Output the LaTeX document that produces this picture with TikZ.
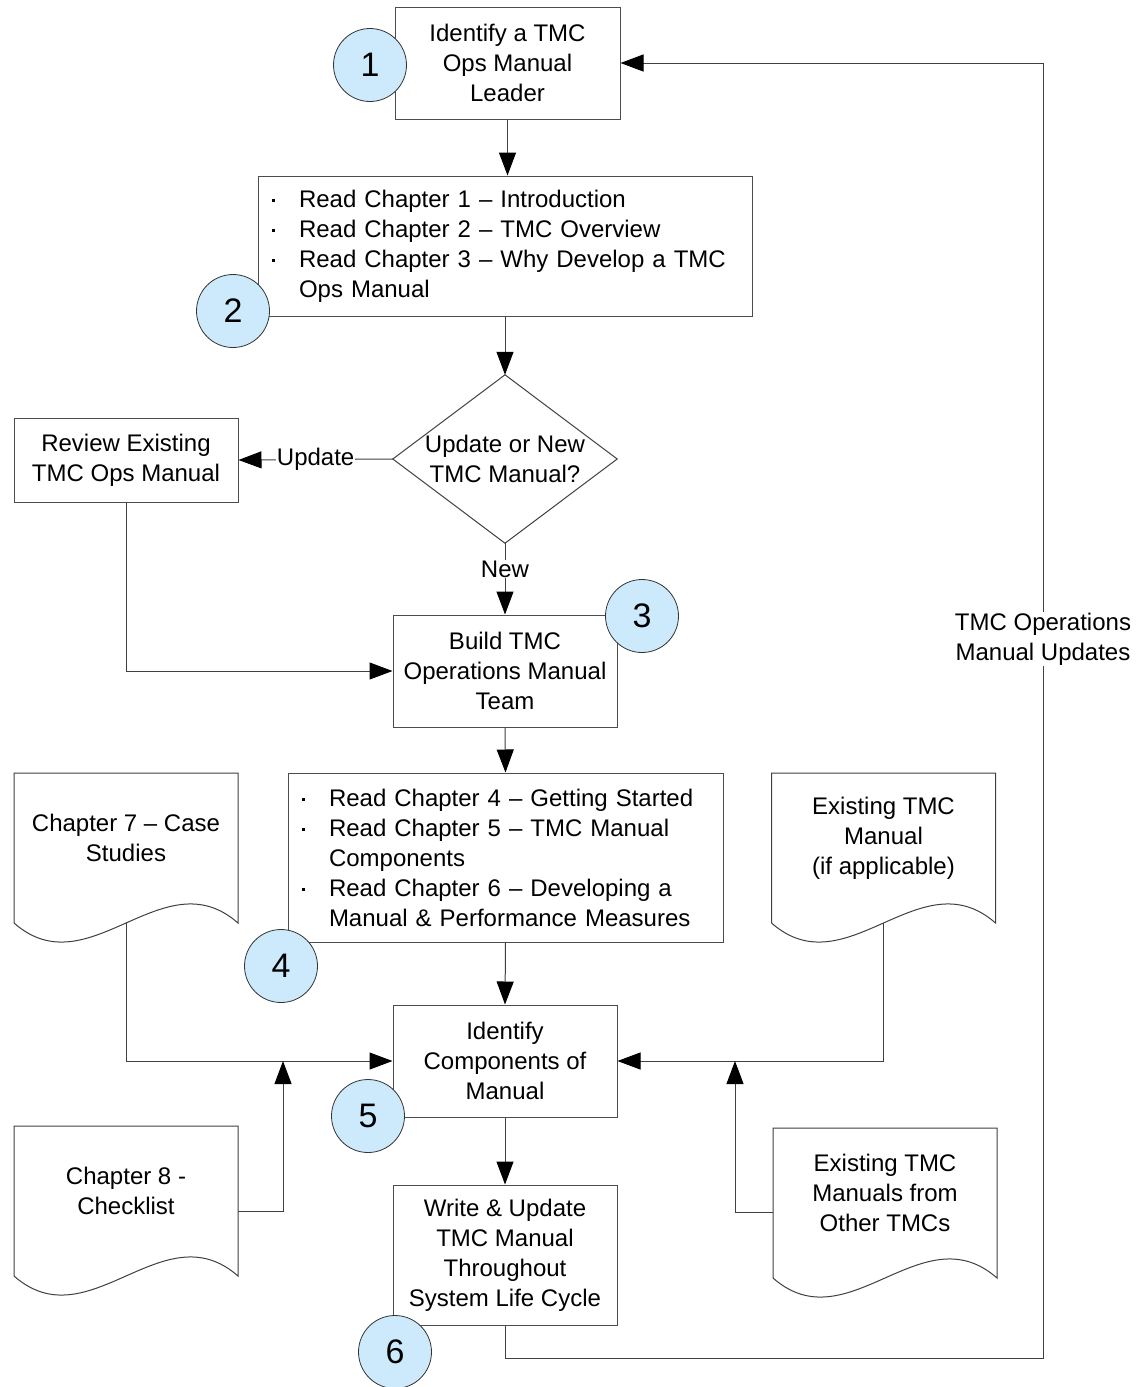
\documentclass[tikz,border=0pt]{standalone}
\usepackage{fontspec}
\setmainfont{Liberation Sans}
\usetikzlibrary{arrows.meta}

\definecolor{stepblue}{RGB}{204,234,252}
\newcommand\bul{\makebox[27pt][l]{\rule[5.5pt]{2.6pt}{2.6pt}}}
\newcommand\ind{\hspace*{27pt}}

\begin{document}
\begin{tikzpicture}
	[x=1pt, y=-1pt,
	every node/.style={font=\fontsize{24}{30}\selectfont},
	box/.style={draw=black!70, line width=1pt, fill=white, align=center, inner sep=0pt},
	listbox/.style={box, align=left, inner xsep=14pt, inner ysep=0pt},
	decision/.style={align=center, inner sep=0pt, minimum width=224pt, minimum height=168pt},
	doctext/.style={align=center, inner sep=0pt},
	stepnum/.style={circle, draw=black!80, line width=0.8pt, fill=stepblue, minimum size=73pt,
		inner sep=0pt, font=\fontsize{34}{34}\selectfont},
	line/.style={draw=black!75, line width=1pt},
	arrow/.style={line, -{Triangle[length=23pt,width=17pt,black]}},
	tag/.style={fill=white, inner sep=1pt, align=center}]

	% Page
	\path[use as bounding box, fill=white] (0,0) rectangle (1143,1387);

	% Main steps
	\node[box, minimum width=225pt, minimum height=112pt] (leader) at (507.5,63) {Identify a TMC\\Ops Manual\\Leader};
	\node[listbox, text width=466pt, minimum height=140pt] (intro) at (505,246)
		{\bul Read Chapter 1 -- Introduction\\
		 \bul Read Chapter 2 -- TMC Overview\\
		 \bul Read Chapter 3 -- Why Develop a TMC\\
		 \ind Ops Manual};
	\node[decision] (choice) at (505,459) {Update or New\\TMC Manual?};
	\draw[line] (choice.north) -- (choice.east) -- (choice.south) -- (choice.west) -- cycle;
	\node[box, minimum width=224pt, minimum height=84pt] (review) at (126,460) {Review Existing\\TMC Ops Manual};
	\node[box, minimum width=224pt, minimum height=112pt] (team) at (505,671) {Build TMC\\Operations Manual\\Team};
	\node[listbox, text width=407pt, minimum height=169pt] (plan) at (505.5,857.5)
		{\bul Read Chapter 4 -- Getting Started\\
		 \bul Read Chapter 5 -- TMC Manual\\
		 \ind Components\\
		 \bul Read Chapter 6 -- Developing a\\
		 \ind Manual \& Performance Measures};
	\node[box, minimum width=224pt, minimum height=112pt] (components) at (505,1061) {Identify\\Components of\\Manual};
	\node[box, minimum width=224pt, minimum height=140pt] (write) at (505,1255) {Write \& Update\\TMC Manual\\Throughout\\System Life Cycle};

	% Documents
	\node[doctext] (cases) at (126,838) {Chapter 7 -- Case\\Studies};
	\node[doctext] (current) at (883.5,838) {Existing TMC\\Manual\\(if applicable)};
	\node[doctext] (checklist) at (126,1191) {Chapter 8 -\\Checklist};
	\node[doctext] (others) at (885,1193) {Existing TMC\\Manuals from\\Other TMCs};

	\foreach \d in {cases,current,checklist,others}
		\draw[line] ([shift={(-112,-65)}]\d.center) -- ([shift={(112,-65)}]\d.center)
			-- ([shift={(112,85)}]\d.center)
			.. controls +(-75,-66) and +(75,66) .. ([shift={(-112,85)}]\d.center) -- cycle;

	\coordinate (casesfoot) at ([yshift=-85pt]cases.center);
	\coordinate (currentfoot) at ([yshift=-85pt]current.center);
	\coordinate (checkside) at ([shift={(112,20)}]checklist.center);
	\coordinate (othersside) at ([shift={(-112,19)}]others.center);
	\coordinate (checkjoin) at (283,1061);
	\coordinate (othersjoin) at (735,1061);
	\coordinate (loopcorner) at (1043,1358);

	% Connectors
	\draw[arrow] (leader.south) -- (leader.south |- intro.north);
	\draw[arrow] (intro.south) -- (choice.north);
	\draw[arrow] (choice.west) -- node[tag] {Update} (review.east);
	\draw[arrow] (choice.south) -- node[tag, pos=0.36] {New} (team.north);
	\draw[arrow] (review.south) |- (team.west);
	\draw[arrow] (team.south) -- (plan.north);
	\draw[arrow] (plan.south) -- (components.north);
	\draw[arrow] (components.south) -- (write.north);
	\draw[arrow] (casesfoot) |- (components.west);
	\draw[arrow] (currentfoot) |- (components.east);
	\draw[arrow] (checkside) -| (checkjoin);
	\draw[arrow] (othersside) -| (othersjoin);
	\draw[arrow] (write.south) |- (loopcorner)
		|- node[tag, pos=0.2775] (updates) {TMC Operations\\Manual Updates} (leader.east);

	% Step numbers
	\node[stepnum] (s1) at (370,65) {1};
	\node[stepnum] (s2) at (233,311) {2};
	\node[stepnum] (s3) at (642,616) {3};
	\node[stepnum] (s4) at (281,966) {4};
	\node[stepnum] (s5) at (368,1116) {5};
	\node[stepnum] (s6) at (395,1352) {6};
\end{tikzpicture}
\end{document}
